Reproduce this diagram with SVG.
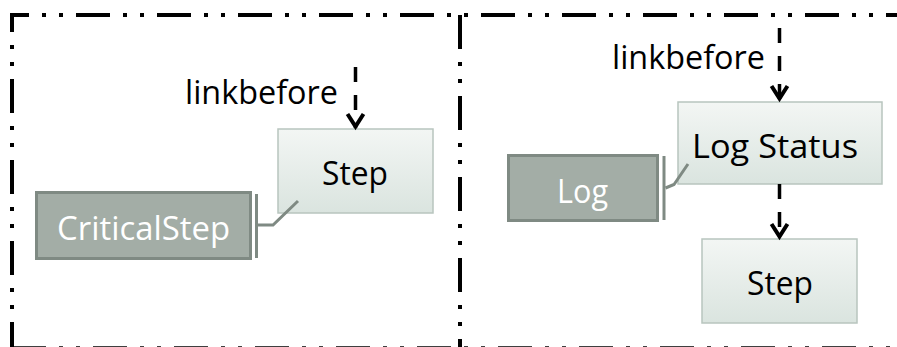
<svg xmlns="http://www.w3.org/2000/svg" width="897" height="347" viewBox="0 0 897 347">
<defs>
<linearGradient id="stepFill" x1="0" y1="0" x2="0" y2="1">
<stop offset="0" stop-color="#f3f6f4"/>
<stop offset="1" stop-color="#dae4df"/>
</linearGradient>
<marker id="chev" markerUnits="userSpaceOnUse" orient="auto" refX="0" refY="0" markerWidth="30" markerHeight="30" viewBox="-20 -15 30 30" overflow="visible">
<path d="M-14,-8 L-1.5,0 L-14,8" fill="none" stroke="#000" stroke-width="4" stroke-linejoin="miter"/>
</marker>
<style>
.frame{stroke:#000;stroke-width:4;fill:none;stroke-dasharray:34 13 4 13 4 13}
.step rect{fill:url(#stepFill);stroke:#b8c5be;stroke-width:1.5}
.grey rect{fill:#a3ada6;stroke:#7f8a83;stroke-width:3}
.t{font-family:"Open Sans","Liberation Sans",sans-serif;font-size:32px;fill:#000}
.grey .t{fill:#fff}
.link{stroke:#000;stroke-width:3.5;fill:none;stroke-dasharray:15 13;marker-end:url(#chev)}
.att{stroke:#7f8a83;stroke-width:3;fill:none}
</style>
</defs>
<g id="frames">
<line class="frame" x1="10" y1="15" x2="897" y2="15" style="stroke-dashoffset:15"/>
<line class="frame" x1="12" y1="13" x2="12" y2="350" style="stroke-dashoffset:15"/>
<line class="frame" x1="460" y1="15" x2="460" y2="350"/>
<line class="frame" x1="12" y1="348.3" x2="897" y2="348.3"/>
</g>
<g id="critical" class="grey">
<rect x="36.5" y="192.5" width="214" height="66"/>
<text class="t" x="57" y="240" textLength="173" lengthAdjust="spacingAndGlyphs">CriticalStep</text>
</g>
<g id="step1" class="step">
<rect x="278" y="129" width="155" height="84"/>
<text class="t" x="322" y="185" textLength="66" lengthAdjust="spacingAndGlyphs">Step</text>
</g>
<g id="log" class="grey">
<rect x="508.5" y="155.5" width="149" height="65"/>
<text class="t" x="557" y="203" textLength="51" lengthAdjust="spacingAndGlyphs">Log</text>
</g>
<g id="logstatus" class="step">
<rect x="678" y="102" width="204" height="82"/>
<text class="t" x="692" y="158" textLength="166" lengthAdjust="spacingAndGlyphs">Log Status</text>
</g>
<g id="step2" class="step">
<rect x="702" y="239" width="155" height="84"/>
<text class="t" x="747" y="295" textLength="66" lengthAdjust="spacingAndGlyphs">Step</text>
</g>
<g id="connectors">
<line class="link" x1="355.5" y1="67" x2="355.5" y2="128"/>
<text class="t" x="185" y="104" textLength="153" lengthAdjust="spacingAndGlyphs">linkbefore</text>
<line class="link" x1="779.5" y1="28" x2="779.5" y2="100"/>
<text class="t" x="612" y="69" textLength="153" lengthAdjust="spacingAndGlyphs">linkbefore</text>
<line class="link" x1="779.5" y1="184" x2="779.5" y2="238"/>
<line class="att" x1="256.5" y1="194" x2="256.5" y2="258"/>
<polyline class="att" points="258,225 273,225 298,201"/>
<line class="att" x1="664" y1="156" x2="664" y2="220"/>
<polyline class="att" points="665.5,188 674,184.5 688,164"/>
</g>
</svg>
